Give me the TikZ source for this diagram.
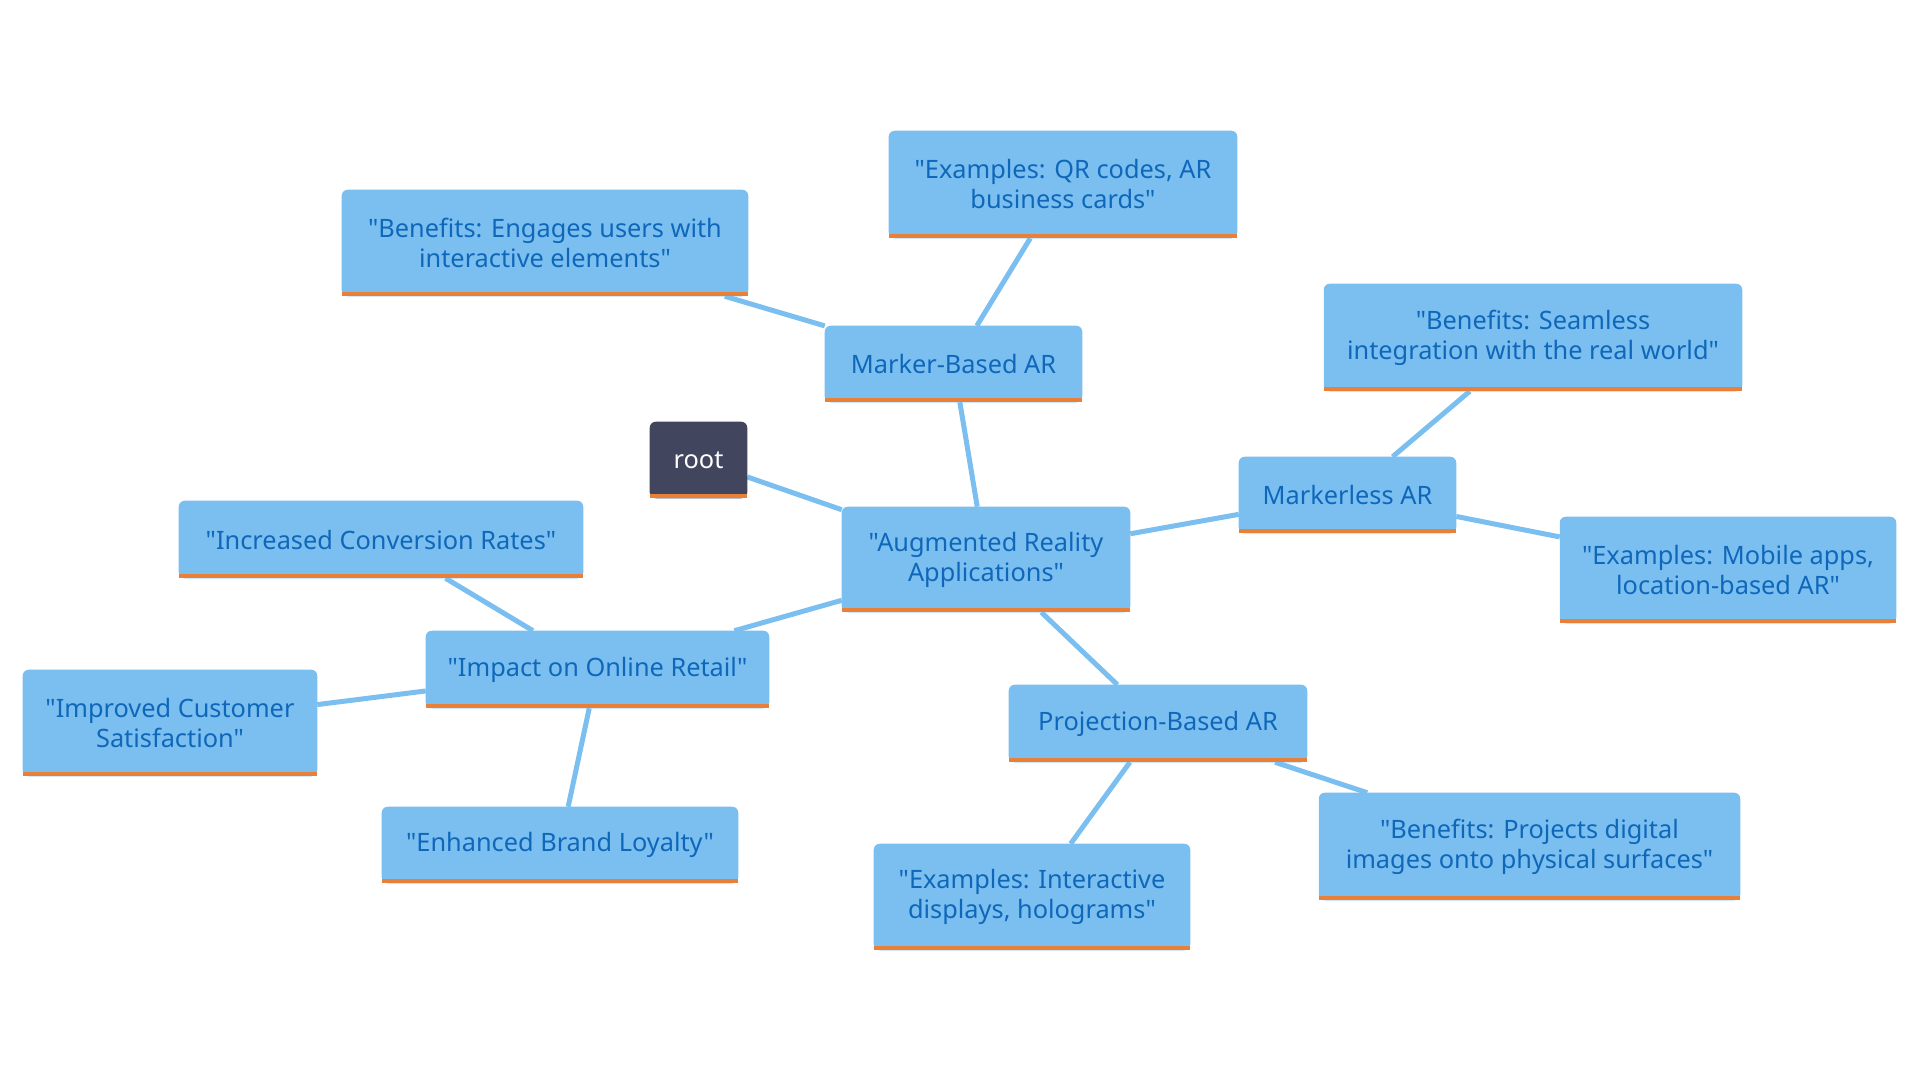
\documentclass[tikz,border=0pt]{standalone}
\usepackage{fontspec}
\setmainfont{Noto Sans}[Ligatures=TeXOff]
\usetikzlibrary{backgrounds}
\definecolor{boxfill}{HTML}{7BBFF0}
\definecolor{boxtext}{HTML}{0F67B9}
\definecolor{bar}{HTML}{E8803A}
\definecolor{rootfill}{HTML}{41455E}
\tikzset{
  box/.style={rectangle, inner sep=0pt, align=center, text=boxtext,
    font=\fontsize{19}{22.5}\selectfont},
  rootbox/.style={box, text=white},
  sz/.style 2 args={minimum width=#1*0.75pt, minimum height=#2*0.75pt},
  link/.style={draw=boxfill, line width=3.75pt}
}

\begin{document}
\begin{tikzpicture}[x=0.75pt,y=-0.75pt]
\useasboundingbox (0,0) rectangle (1920,1080);
\node[rootbox, sz={97}{76}] (root) at (698.5,460) {root};
\node[box, sz={288}{105}] (ara) at (986,559.5) {"Augmented Reality\\Applications"};
\node[box, sz={257}{76}] (marker) at (953.5,364) {Marker-Based AR};
\node[box, sz={348}{107}] (markerex) at (1063,184.5) {"Examples: QR codes, AR\\business cards"};
\node[box, sz={406}{106}] (markerben) at (545,243) {"Benefits: Engages users with\\interactive elements"};
\node[box, sz={217}{76}] (mless) at (1347.5,495) {Markerless AR};
\node[box, sz={418}{107}] (mlessben) at (1533,337.5) {"Benefits: Seamless\\integration with the real world"};
\node[box, sz={336}{106}] (mlessex) at (1728,570) {"Examples: Mobile apps,\\location-based AR"};
\node[box, sz={298}{77}] (proj) at (1158,723.5) {Projection-Based AR};
\node[box, sz={421}{107}] (projben) at (1529.5,846.5) {"Benefits: Projects digital\\images onto physical surfaces"};
\node[box, sz={316}{106}] (projex) at (1032,897) {"Examples: Interactive\\displays, holograms"};
\node[box, sz={343}{77}] (impact) at (597.5,669.5) {"Impact on Online Retail"};
\node[box, sz={404}{77}] (conv) at (381,539.5) {"Increased Conversion Rates"};
\node[box, sz={294}{106}] (satis) at (170,723) {"Improved Customer\\Satisfaction"};
\node[box, sz={356}{76}] (loyal) at (560,845) {"Enhanced Brand Loyalty"};

\begin{scope}[on background layer]
\draw[link] (root) -- (ara);
\draw[link] (ara) -- (marker);
\draw[link] (marker) -- (markerex);
\draw[link] (marker) -- (markerben);
\draw[link] (ara) -- (mless);
\draw[link] (mless) -- (mlessben);
\draw[link] (mless) -- (mlessex);
\draw[link] (ara) -- (proj);
\draw[link] (proj) -- (projben);
\draw[link] (proj) -- (projex);
\draw[link] (ara) -- (impact);
\draw[link] (impact) -- (conv);
\draw[link] (impact) -- (satis);
\draw[link] (impact) -- (loyal);
\foreach \n/\c in {root/rootfill, ara/boxfill, marker/boxfill, markerex/boxfill,
    markerben/boxfill, mless/boxfill, mlessben/boxfill, mlessex/boxfill,
    proj/boxfill, projben/boxfill, projex/boxfill, impact/boxfill,
    conv/boxfill, satis/boxfill, loyal/boxfill} {
  \fill[\c, rounded corners=4.5] (\n.south west) rectangle (\n.north east);
  \fill[\c] (\n.south west) rectangle (\n.east);
  \fill[bar] (\n.south west) rectangle ([yshift=4.5*0.75pt]\n.south east);
}
\end{scope}
\end{tikzpicture}
\end{document}
